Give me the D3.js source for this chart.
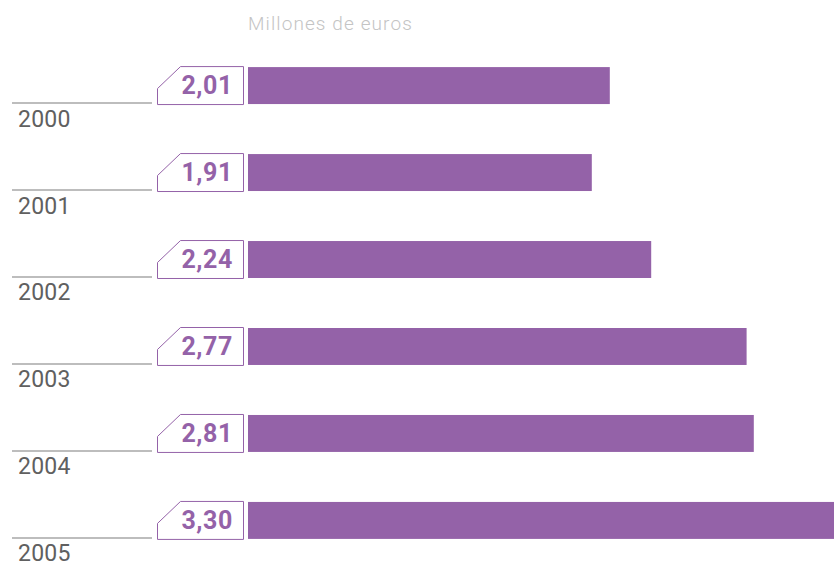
<!DOCTYPE html>
<html>
<head>
<meta charset="utf-8">
<script src="https://cdn.jsdelivr.net/npm/d3@7"></script>
<style>
  body { margin: 0; background: #fff; }
  svg { display: block; font-family: Roboto, "Liberation Sans", sans-serif; }
</style>
</head>
<body>
<div id="chart"></div>
<script>
const years = ["2000", "2001", "2002", "2003", "2004", "2005"]
const values = [2.01, 1.91, 2.24, 2.77, 2.81, 3.30]
const valueLabels = ["2,01", "1,91", "2,24", "2,77", "2,81", "3,30"]
const unitLabel = "Millones de euros"

const WIDTH = 834
const HEIGHT = 563
const BAR_X = 248
const PURPLE = "#9462a8"

const svg = d3.select("#chart").append("svg")
  .attr("width", WIDTH)
  .attr("height", HEIGHT)

// scales
const x = d3.scaleLinear().domain([0, 1]).range([BAR_X, BAR_X + 180])
const y = d3.scaleBand()
  .domain(years)
  .range([41, 565])
  .paddingInner(0.575)
  .paddingOuter(0.3)

const data = years.map((yr, i) => ({ year: yr, value: values[i], label: valueLabels[i] }))

// title
svg.append("text")
  .attr("x", BAR_X)
  .attr("y", 30)
  .attr("font-size", "19px")
  .attr("font-weight", 300)
  .attr("letter-spacing", "1.1px")
  .attr("fill", "#c4c4c4")
  .text(unitLabel)

const rows = svg.selectAll(".row")
  .data(data)
  .enter().append("g")
  .attr("class", "row")
  .attr("transform", d => `translate(0, ${y(d.year)})`)

const bh = y.bandwidth()

// bars
rows.append("rect")
  .attr("x", x(0))
  .attr("y", 0)
  .attr("width", d => x(d.value) - x(0))
  .attr("height", bh)
  .attr("fill", PURPLE)

// label box with cut corner
rows.append("path")
  .attr("d", `M157.5,${bh - 15.5} L180.5,${-0.5} L243.5,${-0.5} L243.5,${bh + 0.5} L157.5,${bh + 0.5} Z`)
  .attr("fill", "#fff")
  .attr("stroke", PURPLE)
  .attr("stroke-width", 1)

rows.append("text")
  .attr("x", 233)
  .attr("y", bh / 2 + 8.5)
  .attr("text-anchor", "end")
  .attr("font-size", "25px")
  .attr("font-weight", 700)
  .attr("letter-spacing", "0.6px")
  .attr("fill", PURPLE)
  .text(d => d.label)

// grey rule + year
rows.append("line")
  .attr("x1", 12)
  .attr("x2", 152)
  .attr("y1", bh - 1)
  .attr("y2", bh - 1)
  .attr("stroke", "#bdbdbd")
  .attr("stroke-width", 2)

rows.append("text")
  .attr("x", 18)
  .attr("y", bh + 22.5)
  .attr("font-size", "23px")
  .attr("font-weight", 400)
  .attr("letter-spacing", "0.2px")
  .attr("fill", "#606060")
  .text(d => d.year)
</script>
</body>
</html>
